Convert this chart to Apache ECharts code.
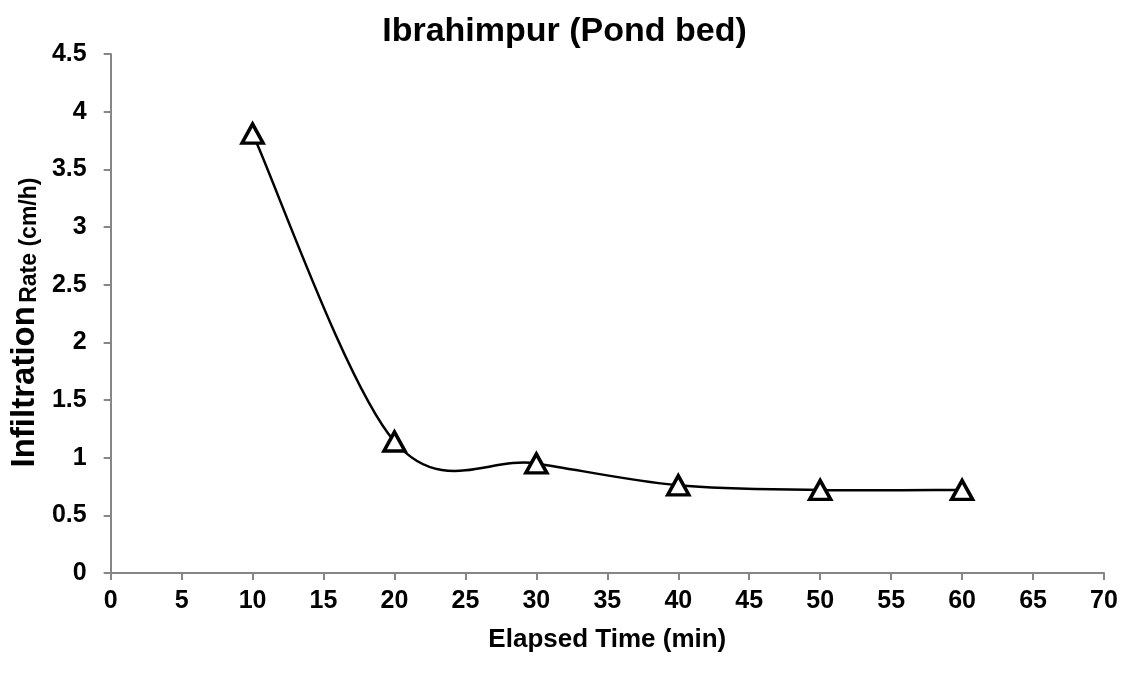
<!DOCTYPE html>
<html>
<head>
<meta charset="utf-8">
<script src="https://cdn.jsdelivr.net/npm/echarts@6/dist/echarts.min.js"></script>
<style>
  html, body { margin: 0; padding: 0; background: #fff; }
  #main { width: 1129px; height: 685px; }
</style>
</head>
<body>
<div id="main"></div>
<script>
// elapsed time (min) and infiltration rate (cm/h)
const elapsedTime = [10, 20, 30, 40, 50, 60];
const infiltrationRate = [3.81, 1.14, 0.95, 0.76, 0.72, 0.72];

const points = elapsedTime.map((t, i) => [t, infiltrationRate[i]]);

const chart = echarts.init(document.getElementById('main'));
const axisGray = '#868686';
const font = 'Liberation Sans';
const labelFont = { fontFamily: font, fontWeight: 'bold', fontSize: 25, color: '#000' };

// spreadsheet-style smoothed line: cubic bezier per segment (catmull-rom, /6),
// end points taken from the library's own coordinate system
function renderSmoothSegment(params, api) {
  const i = params.dataIndex;
  if (i >= points.length - 1) return null;
  const p = (k) => api.coord(points[Math.max(0, Math.min(points.length - 1, k))]);
  const p0 = p(i - 1), p1 = p(i), p2 = p(i + 1), p3 = p(i + 2);
  return {
    type: 'bezierCurve',
    shape: {
      x1: p1[0], y1: p1[1],
      cpx1: p1[0] + (p2[0] - p0[0]) / 6, cpy1: p1[1] + (p2[1] - p0[1]) / 6,
      cpx2: p2[0] - (p3[0] - p1[0]) / 6, cpy2: p2[1] - (p3[1] - p1[1]) / 6,
      x2: p2[0], y2: p2[1]
    },
    style: { stroke: '#000', lineWidth: 2.5, fill: null }
  };
}

const option = {
  animation: false,
  backgroundColor: '#fff',
  title: {
    text: 'Ibrahimpur (Pond bed)',
    left: 'center',
    top: 10,
    textStyle: { fontFamily: font, fontWeight: 'bold', fontSize: 34, color: '#000' }
  },
  grid: { left: 107, right: 25, top: 54, bottom: 112 },
  xAxis: {
    type: 'value',
    min: 0,
    max: 70,
    interval: 5,
    name: 'Elapsed Time (min)',
    nameLocation: 'middle',
    nameGap: 54,
    nameTextStyle: { fontFamily: font, fontWeight: 'bold', fontSize: 26, color: '#000' },
    axisLine: { lineStyle: { color: axisGray, width: 2 } },
    axisTick: { show: true, length: 7, lineStyle: { color: axisGray, width: 2 } },
    axisLabel: Object.assign({ margin: 16 }, labelFont),
    splitLine: { show: false }
  },
  yAxis: {
    type: 'value',
    min: 0,
    max: 4.5,
    interval: 0.5,
    name: '{big|Infiltration} {small|Rate (cm/h)}',
    nameLocation: 'middle',
    nameGap: 68,
    nameTextStyle: {
      padding: [0, 18, 0, 0],
      rich: {
        big: { fontFamily: font, fontWeight: 'bold', fontSize: 33, color: '#000', verticalAlign: 'bottom', lineHeight: 33 },
        small: { fontFamily: font, fontWeight: 'bold', fontSize: 23, color: '#000', verticalAlign: 'bottom', lineHeight: 31 }
      }
    },
    axisLine: { show: true, lineStyle: { color: axisGray, width: 2 } },
    axisTick: { show: true, length: 7, lineStyle: { color: axisGray, width: 2 } },
    axisLabel: Object.assign({ margin: 24 }, labelFont),
    splitLine: { show: false }
  },
  series: [
    {
      type: 'custom',
      data: points,
      renderItem: renderSmoothSegment,
      silent: true,
      z: 1
    },
    {
      type: 'line',
      data: points,
      symbol: 'triangle',
      symbolSize: [21, 19],
      showAllSymbol: true,
      lineStyle: { width: 0, opacity: 0 },
      itemStyle: { color: '#fff', borderColor: '#000', borderWidth: 3.5 },
      z: 2
    }
  ]
};

chart.setOption(option);
</script>
</body>
</html>
